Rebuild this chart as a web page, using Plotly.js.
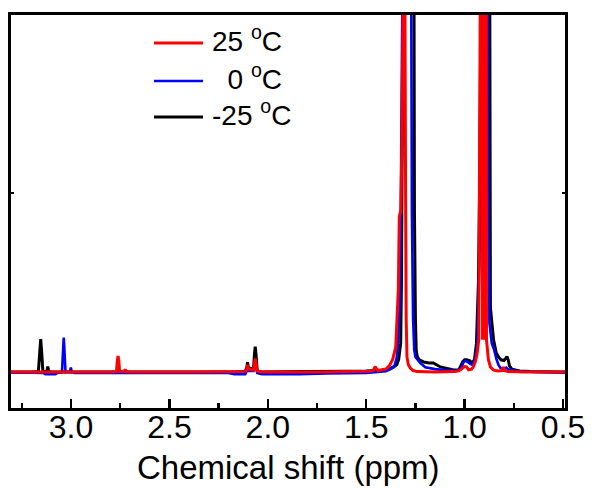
<!DOCTYPE html>
<html>
<head>
<meta charset="utf-8">
<script src="https://cdn.plot.ly/plotly-3.0.1.min.js"></script>
<style>
  html, body { margin: 0; padding: 0; background: #fff; }
  #plot { width: 595px; height: 489px; }
</style>
</head>
<body>
<div id="plot"></div>
<script>
// ---- Data: [chemical shift (ppm), intensity (a.u.)] ----
const seriesNames = ['-25 <sup>o</sup>C', '\u00A0\u00A00 <sup>o</sup>C', '25 <sup>o</sup>C'];
const seriesColors = ['#000000', '#0000ff', '#ff0000'];

const minus25C = [
  [3.305,0],[3.20,0],[3.166,0.1],[3.159,5.5],[3.154,9.2],[3.149,5.5],[3.143,0.2],
  [3.123,0.1],[3.118,1.5],[3.113,0.1],[3.10,0],[3.00,0],[2.80,0],[2.50,0],[2.20,0],
  [2.115,0.1],[2.107,1.2],[2.103,2.7],[2.099,1.2],[2.073,0.8],[2.068,5],[2.064,7.1],
  [2.060,5],[2.054,0.3],[2.03,0],[1.80,0.1],[1.60,0.2],[1.50,0.3],[1.42,0.5],[1.38,0.9],
  [1.36,1.5],[1.345,2.0],[1.335,3.5],[1.325,8],[1.321,25],[1.318,55],[1.313,100],
  [1.285,1500],[1.257,100],[1.255,45],[1.250,15],[1.246,6],[1.240,4.2],[1.230,3.4],
  [1.209,2.8],[1.180,2.5],[1.159,2.5],[1.123,1.4],[1.090,1.0],[1.060,0.6],[1.030,0.5],
  [1.010,2.8],[1.000,3.4],[0.990,3.4],[0.975,3.2],[0.962,2.5],[0.950,3.5],[0.940,8],
  [0.930,25],[0.922,60],[0.918,100],[0.910,1500],[0.903,27.7],[0.890,1500],[0.872,100],
  [0.869,18],[0.853,9],[0.840,5.5],[0.828,4.2],[0.815,3.4],[0.800,3.2],[0.791,3.8],
  [0.785,4.3],[0.779,3.5],[0.772,1.7],[0.760,0.8],[0.720,0.3],[0.665,0.1],[0.490,0]
];

const zeroC = [
  [3.305,-0.2],[3.20,-0.2],[3.14,-0.3],[3.13,-0.6],[3.08,-0.6],[3.07,-0.3],[3.046,-0.1],
  [3.041,5.5],[3.037,9.6],[3.033,5.5],[3.028,0],[3.006,0],[3.001,1.2],[2.996,0],
  [2.98,-0.3],[2.80,-0.3],[2.50,-0.3],[2.20,-0.3],[2.17,-0.6],[2.115,-0.6],[2.107,0.3],
  [2.103,1.5],[2.099,0.3],[2.073,0.3],[2.068,2.2],[2.064,3.0],[2.060,2.2],[2.054,-0.3],
  [2.03,-0.6],[1.95,-0.6],[1.84,-0.6],[1.70,-0.4],[1.50,-0.3],[1.40,0.2],[1.37,1.0],
  [1.357,1.5],[1.345,4],[1.339,7.6],[1.329,20],[1.324,48],[1.317,100],[1.294,1500],
  [1.271,100],[1.268,45],[1.262,15],[1.256,6.2],[1.250,4.2],[1.225,2.5],[1.200,1.3],
  [1.150,0.8],[1.100,0.5],[1.050,0.3],[1.020,0.8],[1.005,2.8],[0.995,3.1],[0.985,2.8],
  [0.970,2.2],[0.960,2.0],[0.945,4],[0.935,8],[0.925,30],[0.918,100],[0.900,1500],
  [0.882,100],[0.879,40],[0.874,13.7],[0.862,8],[0.850,6.2],[0.838,3.5],[0.828,2.0],
  [0.818,1.1],[0.800,0.8],[0.788,1.2],[0.780,0.8],[0.767,0.5],[0.720,0.2],[0.650,0],
  [0.490,-0.2]
];

const plus25C = [
  [3.305,0],[2.80,0],[2.769,0.1],[2.765,3],[2.761,4.5],[2.757,3],[2.753,0.1],
  [2.729,0.1],[2.725,0.75],[2.721,0.1],[2.70,0],[2.40,0],[2.115,0.1],[2.107,0.8],
  [2.103,2.0],[2.099,0.8],[2.073,0.5],[2.068,2.5],[2.064,3.8],[2.060,2.5],[2.054,0.2],
  [2.03,0],[1.70,0],[1.60,0.1],[1.50,0.2],[1.465,0.3],[1.458,1.1],[1.454,1.5],[1.450,1.0],
  [1.44,0.4],[1.40,0.8],[1.383,1.7],[1.366,3.4],[1.350,7],[1.337,23],[1.332,43.4],
  [1.324,45.4],[1.320,59.4],[1.313,100],[1.308,1500],[1.303,100],[1.300,50],[1.297,15],
  [1.293,4.2],[1.286,2],[1.276,1.1],[1.262,0.4],[1.240,0.1],[1.150,0],[1.050,0.1],
  [1.030,0.3],[1.012,1.0],[1.000,1.5],[0.990,1.4],[0.980,0.6],[0.965,0.8],[0.955,1.5],
  [0.945,3],[0.937,5],[0.928,9],[0.926,37],[0.921,100],[0.915,1500],[0.909,9],
  [0.9035,1500],[0.898,9],[0.892,1500],[0.890,100],[0.889,9],[0.879,3.4],[0.869,1.4],
  [0.853,0.5],[0.830,0.3],[0.808,0.4],[0.803,1.4],[0.798,0.4],[0.780,0.1],[0.700,0],
  [0.490,0]
];

const xTickVals = [3.0, 2.5, 2.0, 1.5, 1.0, 0.5];
const xTickText = ['3.0', '2.5', '2.0', '1.5', '1.0', '0.5'];
const xMinorVals = [3.25, 2.75, 2.25, 1.75, 1.25, 0.75];
const yTickVals = [50];
const xTitle = 'Chemical shift (ppm)';

// ---- Build traces (drawn black, blue, red so red ends up on top) ----
const allSeries = [minus25C, zeroC, plus25C];
const lineWidths = [3, 2.6, 3];
const data = allSeries.map((s, i) => ({
  type: 'scatter',
  mode: 'lines',
  x: s.map(p => p[0]),
  y: s.map(p => p[1]),
  name: seriesNames[i],
  line: { color: seriesColors[i], width: lineWidths[i], simplify: false },
  hoverinfo: 'skip',
  showlegend: false
}));

const FONT = 'Arial, "Liberation Sans", sans-serif';

// ---- Plot-area geometry (pixels) used to place the hand-made legend ----
const M = { l: 11, r: 30, t: 15, b: 81 };
const W = 595, H = 489;
const PW = W - M.l - M.r, PH = H - M.t - M.b;
const px2x = px => (px - M.l) / PW;
const px2y = py => (H - M.b - py) / PH;

// legend rows, top to bottom: 25, 0, -25 °C
const legendOrder = [2, 1, 0];
const legendRowY = [43, 81, 117];
const shapes = legendOrder.map((si, r) => ({
  type: 'line', xref: 'paper', yref: 'paper',
  x0: px2x(154), x1: px2x(203), y0: px2y(legendRowY[r]), y1: px2y(legendRowY[r]),
  line: { color: seriesColors[si], width: lineWidths[si] }
}));
const annotations = legendOrder.map((si, r) => ({
  xref: 'paper', yref: 'paper', x: px2x(210), y: px2y(legendRowY[r] - 4),
  xanchor: 'left', yanchor: 'middle', showarrow: false,
  text: seriesNames[si], font: { family: FONT, size: 28, color: '#000000' }
}));
annotations.push({
  xref: 'paper', yref: 'paper', x: 0.5, y: px2y(467),
  xanchor: 'center', yanchor: 'middle', showarrow: false,
  text: xTitle, font: { family: FONT, size: 33, color: '#000000' }
});

const layout = {
  width: W,
  height: H,
  margin: M,
  paper_bgcolor: '#ffffff',
  plot_bgcolor: '#ffffff',
  font: { family: FONT, color: '#000000' },
  showlegend: false,
  shapes: shapes,
  annotations: annotations,
  xaxis: {
    range: [3.305, 0.49],
    tickmode: 'array',
    tickvals: xTickVals,
    ticktext: xTickText,
    ticks: 'inside',
    ticklen: 9,
    tickwidth: 2.5,
    tickcolor: '#000000',
    ticklabelposition: 'outside',
    ticklabelstandoff: -11,
    minor: { tickmode: 'array', tickvals: xMinorVals, ticks: 'inside', ticklen: 5, tickwidth: 2.5, tickcolor: '#000000', showgrid: false },
    showline: true,
    linewidth: 3,
    linecolor: '#000000',
    mirror: true,
    showgrid: false,
    zeroline: false,
    tickfont: { family: FONT, size: 32, color: '#000000' },
    title: { text: '' }
  },
  yaxis: {
    range: [-10.1, 100],
    tickmode: 'array',
    tickvals: yTickVals,
    showticklabels: false,
    ticks: 'inside',
    ticklen: 3,
    tickwidth: 2,
    tickcolor: '#000000',
    showline: true,
    linewidth: 3,
    linecolor: '#000000',
    mirror: 'ticks',
    showgrid: false,
    zeroline: false
  }
};

Plotly.newPlot('plot', data, layout, { displayModeBar: false, staticPlot: true });
</script>
</body>
</html>
